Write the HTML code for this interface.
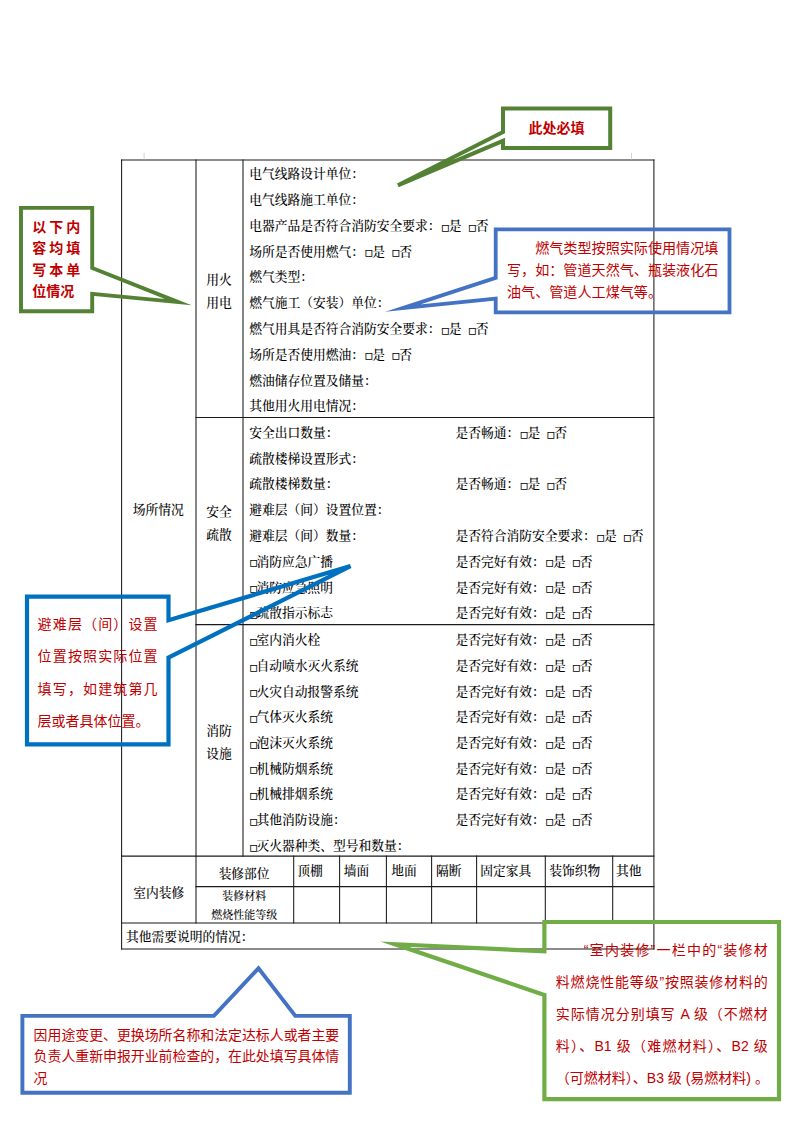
<!DOCTYPE html>
<html lang="zh-CN">
<head>
<meta charset="utf-8">
<title>场所情况填写说明</title>
<style>
html,body{margin:0;padding:0;background:#fff;}
body{width:794px;height:1122px;position:relative;overflow:hidden;
  font-family:"Liberation Serif","Noto Serif CJK SC",serif;color:#000;}
#pg{position:absolute;left:0;top:0;width:794px;height:1122px;overflow:hidden;}
svg{position:absolute;left:0;top:0;}
.ln{position:absolute;left:249.3px;height:25.77px;line-height:25.77px;font-size:12.75px;white-space:nowrap;font-weight:500;}
.c2{position:absolute;left:206.2px;top:0;white-space:nowrap;}
.b{display:inline-block;width:8.2px;font-size:14px;font-weight:400;text-align:center;font-family:"DejaVu Sans",sans-serif;position:relative;top:1.7px;left:0.2px;line-height:1;}
.b0{width:7.3px;left:-0.3px;}
.sp{display:inline-block;width:6px;}
.t{position:absolute;font-size:12.75px;white-space:nowrap;line-height:25.77px;font-weight:500;}
.ctr{text-align:center;}
.l2{line-height:23.2px;}
.jl div{text-align:justify;text-align-last:justify;white-space:nowrap;}
.co{position:absolute;font-family:"Liberation Sans","Noto Sans CJK SC",sans-serif;color:#c00000;font-size:14px;}
</style>
</head>
<body>
<div id="pg">
<svg width="794" height="1122" viewBox="0 0 794 1122">
<g stroke="#1a1a1a" stroke-width="1.05" fill="none" stroke-linecap="square">
<line x1="121.6" y1="159.90" x2="653.9" y2="159.90"/>
<line x1="196.0" y1="417.50" x2="653.9" y2="417.50"/>
<line x1="196.0" y1="624.60" x2="653.9" y2="624.60"/>
<line x1="121.6" y1="856.10" x2="653.9" y2="856.10"/>
<line x1="196.0" y1="886.60" x2="653.9" y2="886.60"/>
<line x1="121.6" y1="922.90" x2="653.9" y2="922.90"/>
<line x1="121.6" y1="949.00" x2="653.9" y2="949.00"/>
<line x1="121.6" y1="159.90" x2="121.6" y2="949.00"/>
<line x1="653.9" y1="159.90" x2="653.9" y2="949.00"/>
<line x1="196.0" y1="159.90" x2="196.0" y2="922.90"/>
<line x1="243.0" y1="159.90" x2="243.0" y2="856.10"/>
<line x1="293.7" y1="856.10" x2="293.7" y2="922.90"/>
<line x1="339.6" y1="856.10" x2="339.6" y2="922.90"/>
<line x1="386.4" y1="856.10" x2="386.4" y2="922.90"/>
<line x1="431.6" y1="856.10" x2="431.6" y2="922.90"/>
<line x1="476.6" y1="856.10" x2="476.6" y2="922.90"/>
<line x1="545.3" y1="856.10" x2="545.3" y2="922.90"/>
<line x1="612.7" y1="856.10" x2="612.7" y2="922.90"/>
</g>
<g stroke="#d4d4d4" stroke-width="1">
<line x1="144.1" y1="152.8" x2="144.1" y2="159.4"/>
<line x1="631.5" y1="152.8" x2="631.5" y2="159.4"/>
</g>
</svg>

<div class="ln" style="top:162.30px">电气线路设计单位：</div>
<div class="ln" style="top:188.08px">电气线路施工单位：</div>
<div class="ln" style="top:213.86px">电器产品是否符合消防安全要求：<span class="b">▫</span>是<span class="sp"></span><span class="b">▫</span>否</div>
<div class="ln" style="top:239.64px">场所是否使用燃气：<span class="b">▫</span>是<span class="sp"></span><span class="b">▫</span>否</div>
<div class="ln" style="top:265.42px">燃气类型：</div>
<div class="ln" style="top:291.20px">燃气施工（安装）单位：</div>
<div class="ln" style="top:316.98px">燃气用具是否符合消防安全要求：<span class="b">▫</span>是<span class="sp"></span><span class="b">▫</span>否</div>
<div class="ln" style="top:342.76px">场所是否使用燃油：<span class="b">▫</span>是<span class="sp"></span><span class="b">▫</span>否</div>
<div class="ln" style="top:368.54px">燃油储存位置及储量：</div>
<div class="ln" style="top:394.32px">其他用火用电情况：</div>
<div class="ln" style="top:420.90px">安全出口数量：<span class="c2">是否畅通：<span class="b">▫</span>是<span class="sp"></span><span class="b">▫</span>否</span></div>
<div class="ln" style="top:446.68px">疏散楼梯设置形式：</div>
<div class="ln" style="top:472.46px">疏散楼梯数量：<span class="c2">是否畅通：<span class="b">▫</span>是<span class="sp"></span><span class="b">▫</span>否</span></div>
<div class="ln" style="top:498.24px">避难层（间）设置位置：</div>
<div class="ln" style="top:524.02px">避难层（间）数量：<span class="c2">是否符合消防安全要求：<span class="b">▫</span>是<span class="sp"></span><span class="b">▫</span>否</span></div>
<div class="ln" style="top:549.80px"><span class="b b0">▫</span>消防应急广播<span class="c2">是否完好有效：<span class="b">▫</span>是<span class="sp"></span><span class="b">▫</span>否</span></div>
<div class="ln" style="top:575.58px"><span class="b b0">▫</span>消防应急照明<span class="c2">是否完好有效：<span class="b">▫</span>是<span class="sp"></span><span class="b">▫</span>否</span></div>
<div class="ln" style="top:601.36px"><span class="b b0">▫</span>疏散指示标志<span class="c2">是否完好有效：<span class="b">▫</span>是<span class="sp"></span><span class="b">▫</span>否</span></div>
<div class="ln" style="top:628.10px"><span class="b b0">▫</span>室内消火栓<span class="c2">是否完好有效：<span class="b">▫</span>是<span class="sp"></span><span class="b">▫</span>否</span></div>
<div class="ln" style="top:653.82px"><span class="b b0">▫</span>自动喷水灭火系统<span class="c2">是否完好有效：<span class="b">▫</span>是<span class="sp"></span><span class="b">▫</span>否</span></div>
<div class="ln" style="top:679.54px"><span class="b b0">▫</span>火灾自动报警系统<span class="c2">是否完好有效：<span class="b">▫</span>是<span class="sp"></span><span class="b">▫</span>否</span></div>
<div class="ln" style="top:705.26px"><span class="b b0">▫</span>气体灭火系统<span class="c2">是否完好有效：<span class="b">▫</span>是<span class="sp"></span><span class="b">▫</span>否</span></div>
<div class="ln" style="top:730.98px"><span class="b b0">▫</span>泡沫灭火系统<span class="c2">是否完好有效：<span class="b">▫</span>是<span class="sp"></span><span class="b">▫</span>否</span></div>
<div class="ln" style="top:756.70px"><span class="b b0">▫</span>机械防烟系统<span class="c2">是否完好有效：<span class="b">▫</span>是<span class="sp"></span><span class="b">▫</span>否</span></div>
<div class="ln" style="top:782.42px"><span class="b b0">▫</span>机械排烟系统<span class="c2">是否完好有效：<span class="b">▫</span>是<span class="sp"></span><span class="b">▫</span>否</span></div>
<div class="ln" style="top:808.14px"><span class="b b0">▫</span>其他消防设施：<span class="c2">是否完好有效：<span class="b">▫</span>是<span class="sp"></span><span class="b">▫</span>否</span></div>
<div class="ln" style="top:833.86px"><span class="b b0">▫</span>灭火器种类、型号和数量：</div>

<div class="t ctr" style="left:121.6px;width:73.4px;top:498px">场所情况</div>
<div class="t ctr l2" style="left:195.5px;width:46.8px;top:268.5px">用火<br>用电</div>
<div class="t ctr l2" style="left:195.5px;width:46.8px;top:500.8px">安全<br>疏散</div>
<div class="t ctr l2" style="left:195.5px;width:46.8px;top:720.1px">消防<br>设施</div>

<div class="t ctr" style="left:121.6px;width:74.4px;top:881.4px">室内装修</div>
<div class="t ctr" style="left:195.2px;width:97.9px;top:862.1px">装修部位</div>
<div class="t ctr" style="left:195.4px;width:97.9px;top:886.85px;font-size:11px;line-height:19px">装修材料<br>燃烧性能等级</div>
<div class="t" style="left:297.2px;top:858.6px">顶棚</div>
<div class="t" style="left:343.8px;top:858.6px">墙面</div>
<div class="t" style="left:391.2px;top:858.6px">地面</div>
<div class="t" style="left:435.9px;top:858.6px">隔断</div>
<div class="t" style="left:480.3px;top:858.6px">固定家具</div>
<div class="t" style="left:549.2px;top:858.6px">装饰织物</div>
<div class="t" style="left:615.9px;top:858.6px">其他</div>
<div class="t" style="left:126px;top:925.2px">其他需要说明的情况：</div>

<svg width="794" height="1122" viewBox="0 0 794 1122">
<g fill="none" stroke-linejoin="miter" stroke-miterlimit="10">
<!-- green top: 此处必填 -->
<polygon stroke="#548235" stroke-width="4" stroke-miterlimit="10" points="503,108.5 610.2,108.5 610.2,148 503,148 503,140.8 397.9,185.3 503,132"/>
<!-- green left -->
<polygon stroke="#548235" stroke-width="3.9" stroke-miterlimit="40" points="21,207.9 92.2,207.9 92.2,268 178.2,302.1 92.2,293.9 92.2,311.2 21,311.2"/>
<!-- blue top right -->
<polygon stroke="#4472c4" stroke-width="3.8" stroke-miterlimit="40" points="495.7,229.4 729.5,229.4 729.5,312.3 495.7,312.3 495.7,298.6 402.75,308.1 495.7,277.9"/>
<!-- blue left -->
<polygon stroke="#0070c0" stroke-width="4.2" stroke-miterlimit="10" points="27,596.7 168.5,596.7 168.5,620.2 350.5,566.1 168.5,657.6 168.5,744.4 27,744.4"/>
<!-- blue bottom -->
<polygon stroke="#4472c4" stroke-width="3.9" stroke-miterlimit="40" points="22.4,1015.9 213.9,1015.9 258.5,968.3 295.3,1015.9 349.8,1015.9 349.8,1092.7 22.4,1092.7"/>
<!-- green bottom right -->
<polygon stroke="#70ad47" stroke-width="4.2" stroke-miterlimit="40" points="544.4,922 779,922 779,1099.1 544.4,1099.1 544.4,995 394.9,944.2 544.4,951.3"/>
</g>
</svg>

<div class="co" style="left:503px;width:107px;top:108px;height:40px;line-height:40px;text-align:center;font-weight:700;">此处必填</div>
<div class="co" style="left:32.2px;top:217.2px;line-height:21.3px;font-weight:700;white-space:nowrap;"><span style="letter-spacing:3px">以下内<br>容均填<br>写本单</span><br>位情况</div>
<div class="co" style="left:507px;width:213px;top:238.4px;line-height:21.6px;text-indent:28.2px;font-size:14.1px;">燃气类型按照实际使用情况填写，如：管道天然气、瓶装液化石油气、管道人工煤气等。</div>
<div class="co jl" style="left:37.6px;width:120px;top:608.1px;line-height:32.3px;">
<div>避难层（间）设置</div>
<div>位置按照实际位置</div>
<div>填写，如建筑第几</div>
<div style="text-align-last:left">层或者具体位置。</div>
</div>
<div class="co" style="left:33.6px;width:307px;top:1024.9px;line-height:21.5px;font-size:13.9px;">因用途变更、更换场所名称和法定达标人或者主要负责人重新申报开业前检查的，在此处填写具体情况</div>
<div class="co jl" style="left:555.8px;width:212px;top:934.2px;line-height:32px;">
<div style="padding-left:28px">“室内装修”一栏中的“装修材</div>
<div>料燃烧性能等级”按照装修材料的</div>
<div>实际情况分别填写 A 级（不燃材</div>
<div>料）、B1 级（难燃材料）、B2 级</div>
<div>（可燃材料）、B3 级 (易燃材料) 。</div>
</div>
</div>
</body>
</html>
